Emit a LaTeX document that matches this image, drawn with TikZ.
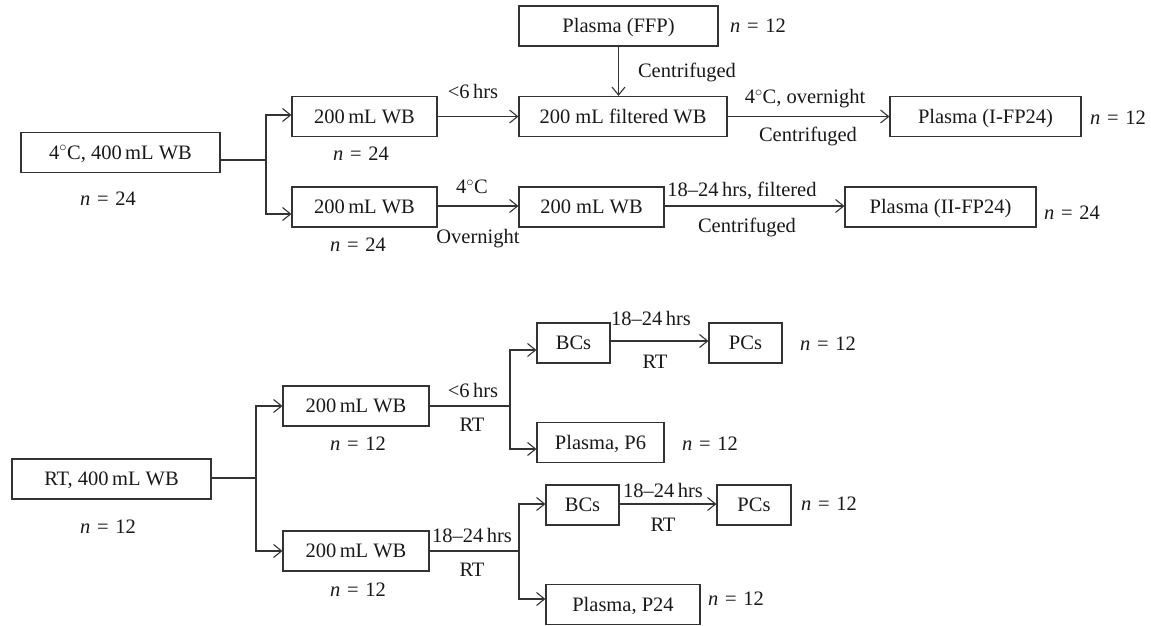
\documentclass[tikz,border=0pt]{standalone}
\usepackage{fontspec}
\setmainfont{Liberation Serif}
\usepackage{tikz}
\usetikzlibrary{arrows.meta}
\newcommand{\nval}[1]{\textit{n}\hspace{1.5pt} = \hspace{1.5pt}#1}

\begin{document}
\begin{tikzpicture}[x=1pt,y=-1pt,
    line width=1.2pt, draw=black!80,
    every node/.style={font=\fontsize{20.5}{24}\selectfont, text=black!90},
    box/.style={draw=black!80, line width=1.2pt, inner sep=0pt, minimum height=40pt,
      text height=13.5pt, text depth=0pt},
    arr/.style={-{Straight Barb[length=8pt,width=13pt,line width=1.1pt]}}]

   \useasboundingbox (0,0) rectangle (1151,625);

   % 4 C branch
   \node[box, minimum width=199pt] (cold) at (120.5,152.5) {4$^{\circ}$C, 400\,mL WB};
   \node[box, minimum width=145pt] (wbA) at (364.5,116.5) {200\,mL WB};
   \node[box, minimum width=145pt] (wbB) at (364.5,207) {200\,mL WB};
   \node[box, minimum width=199pt] (ffp) at (618.5,26) {Plasma (FFP)};
   \node[box, minimum width=208pt] (fwb) at (623,116.5) {200 mL filtered WB};
   \node[box, minimum width=191pt] (ifp) at (985.5,116.5) {Plasma (I-FP24)};
   \node[box, minimum width=145pt] (wbC) at (591.5,207) {200 mL WB};
   \node[box, minimum width=191pt] (iifp) at (940.5,207) {Plasma (II-FP24)};

   \node (nA) at (108,199) {\nval{24}};
   \node (nB) at (361,154) {\nval{24}};
   \node (nC) at (358,245) {\nval{24}};
   \node (nD) at (758,26) {\nval{12}};
   \node (nE) at (1118,118) {\nval{12}};
   \node (nF) at (1072,213) {\nval{24}};

   \coordinate (jA) at (266,160);
   \draw ([yshift=-7.5pt]cold.east) -- (jA);
   \draw[arr] (jA) |- ([yshift=1.5pt]wbA.west);
   \draw[arr] (jA) |- ([yshift=-7pt]wbB.west);
   \draw[arr] (wbA.east) -- (fwb.west);
   \draw[arr] (ffp.south) -- (ffp.south |- fwb.north);
   \draw[arr] (fwb.east) -- (ifp.west);
   \draw[arr] ([yshift=1pt]wbB.east) -- ([yshift=1pt]wbC.west);
   \draw[arr] ([yshift=1pt]wbC.east) -- ([yshift=1pt]iifp.west);

   \node (tA) at (473,91) {<6\,hrs};
   \node (tB) at (687,72) {Centrifuged};
   \node (tC) at (805,99) {4$^{\circ}$C, overnight};
   \node (tD) at (808,136) {Centrifuged};
   \node (tE) at (472,187) {4$^{\circ}$C};
   \node (tF) at (478,239) {Overnight};
   \node (tG) at (742,191) {18--24\,hrs, filtered};
   \node (tH) at (747,227) {Centrifuged};

   % RT branch
   \node[box, minimum width=199pt] (rt) at (111.5,479) {RT, 400\,mL WB};
   \node[box, minimum width=146pt] (wbD) at (356,406) {200\,mL WB};
   \node[box, minimum width=146pt] (wbE) at (356,551) {200\,mL WB};
   \node[box, minimum width=73pt] (bcA) at (573.5,343) {BCs};
   \node[box, minimum width=73pt] (pcA) at (745.5,343) {PCs};
   \node[box, minimum width=127pt] (pA) at (600.5,442.5) {Plasma, P6};
   \node[box, minimum width=73pt] (bcB) at (582.5,505) {BCs};
   \node[box, minimum width=74pt] (pcB) at (754,505) {PCs};
   \node[box, minimum width=154pt] (pB) at (623,604.5) {Plasma, P24};

   \node (nG) at (108,527) {\nval{12}};
   \node (nH) at (358,444) {\nval{12}};
   \node (nI) at (358,590) {\nval{12}};
   \node (nJ) at (828,344) {\nval{12}};
   \node (nK) at (710,444) {\nval{12}};
   \node (nL) at (829,504) {\nval{12}};
   \node (nM) at (736,599) {\nval{12}};

   \coordinate (jB) at (256,478);
   \coordinate (jC) at (510,406);
   \coordinate (jD) at (519,551);
   \draw ([yshift=1pt]rt.east) -- (jB);
   \draw[arr] (jB) |- (wbD.west);
   \draw[arr] (jB) |- (wbE.west);
   \draw (wbD.east) -- (jC);
   \draw[arr] (jC) |- ([yshift=-7pt]bcA.west);
   \draw[arr] (jC) |- ([yshift=-6.5pt]pA.west);
   \draw (wbE.east) -- (jD);
   \draw[arr] (jD) |- ([yshift=1pt]bcB.west);
   \draw[arr] (jD) |- ([yshift=5.5pt]pB.west);
   \draw[arr] ([yshift=2pt]bcA.east) -- ([yshift=2pt]pcA.west);
   \draw[arr] ([yshift=1pt]bcB.east) -- ([yshift=1pt]pcB.west);

   \node (tI) at (473,390) {<6\,hrs};
   \node (tJ) at (472,425) {RT};
   \node (tK) at (651,318) {18--24\,hrs};
   \node (tL) at (655,362) {RT};
   \node (tM) at (472,535) {18--24\,hrs};
   \node (tN) at (472,570) {RT};
   \node (tO) at (663,490) {18--24\,hrs};
   \node (tP) at (663,525) {RT};
  \end{tikzpicture}
\end{document}
